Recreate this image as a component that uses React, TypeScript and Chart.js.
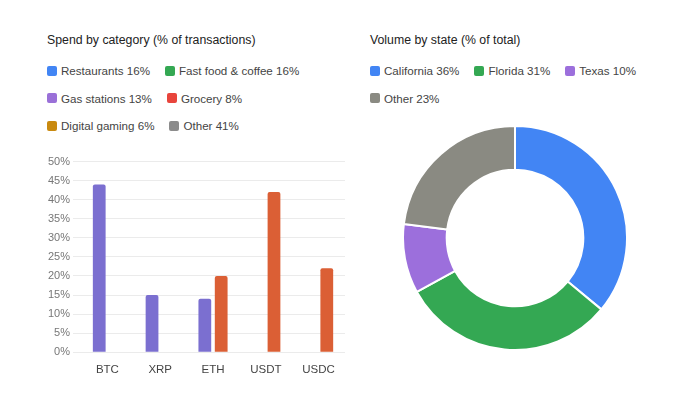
import React, { useEffect, useRef } from "react";
import { Chart, registerables } from "chart.js";
Chart.register(...registerables);

const categories = ["BTC", "XRP", "ETH", "USDT", "USDC"];
const gasValues = [44, 15, 14, null, null];
const groceryValues = [null, null, 20, 42, 22];
const leftLegend = [
  ["Restaurants 16%", "#4285f4"],
  ["Fast food & coffee 16%", "#34a853"],
  ["Gas stations 13%", "#9a70d8"],
  ["Grocery 8%", "#e8453c"],
  ["Digital gaming 6%", "#c98a10"],
  ["Other 41%", "#8c8c8c"],
];
const states = ["California 36%", "Florida 31%", "Texas 10%", "Other 23%"];
const stateValues = [36, 31, 10, 23];
const stateColors = ["#4285f4", "#34a853", "#9c6fdc", "#8a8a82"];

const font = "'Liberation Sans', Arial, sans-serif";

function Legend({ items, rows, left, top }: any) {
  return (
    <div style={{ position: "absolute", left, top }}>
      {rows.map((row: number[], ri: number) => (
        <div key={ri} style={{ display: "flex", height: 27.5, alignItems: "center" }}>
          {row.map((i) => (
            <div key={i} style={{ display: "flex", alignItems: "center", marginRight: 15 }}>
              <span style={{ width: 10, height: 10, borderRadius: 2, background: items[i][1], marginRight: 4, display: "inline-block" }} />
              <span style={{ fontSize: 11.6, color: "#444" }}>{items[i][0]}</span>
            </div>
          ))}
        </div>
      ))}
    </div>
  );
}

export default function App() {
  const barRef = useRef<HTMLCanvasElement>(null);
  const pieRef = useRef<HTMLCanvasElement>(null);
  useEffect(() => {
    const bar = new Chart(barRef.current!, {
      type: "bar",
      data: {
        labels: categories,
        datasets: [
          { data: gasValues as any, backgroundColor: "#7b6fd0", borderRadius: 2 },
          { data: groceryValues as any, backgroundColor: "#db5f35", borderRadius: 2 },
        ],
      },
      options: {
        animation: false,
        responsive: false,
        maintainAspectRatio: false,
        plugins: { legend: { display: false }, tooltip: { enabled: false } },
        datasets: { bar: { categoryPercentage: 0.62, barPercentage: 0.78 } },
        scales: {
          x: {
            grid: { display: false },
            border: { display: false },
            ticks: { color: "#444", font: { family: font, size: 11.5 } },
          },
          y: {
            min: 0,
            max: 50,
            grid: { color: "#ebebeb" },
            border: { display: false },
            ticks: { stepSize: 5, color: "#777", font: { family: font, size: 11 }, callback: (v: any) => v + "%" },
          },
        },
      },
    });
    const pie = new Chart(pieRef.current!, {
      type: "doughnut",
      data: {
        labels: states,
        datasets: [{ data: stateValues, backgroundColor: stateColors, borderColor: "#fff", borderWidth: 2 }],
      },
      options: {
        animation: false,
        responsive: false,
        cutout: "61%",
        plugins: { legend: { display: false }, tooltip: { enabled: false } },
      },
    });
    return () => {
      bar.destroy();
      pie.destroy();
    };
  }, []);
  return (
    <div style={{ position: "absolute", left: 0, top: 0, width: 680, height: 405, fontFamily: font, background: "#fff" }}>
      <div style={{ position: "absolute", left: 47, top: 33, fontSize: 12.3, color: "#222" }}>Spend by category (% of transactions)</div>
      <Legend items={leftLegend} rows={[[0, 1], [2, 3], [4, 5]]} left={47} top={57} />
      <div style={{ position: "absolute", left: 370, top: 33, fontSize: 12.3, color: "#222" }}>Volume by state (% of total)</div>
      <Legend items={states.map((s, i) => [s, stateColors[i]])} rows={[[0, 1, 2], [3]]} left={370} top={57} />
      <canvas ref={barRef} width={300} height={228} style={{ position: "absolute", left: 45, top: 152 }} />
      <canvas ref={pieRef} width={226} height={226} style={{ position: "absolute", left: 402, top: 125 }} />
    </div>
  );
}
